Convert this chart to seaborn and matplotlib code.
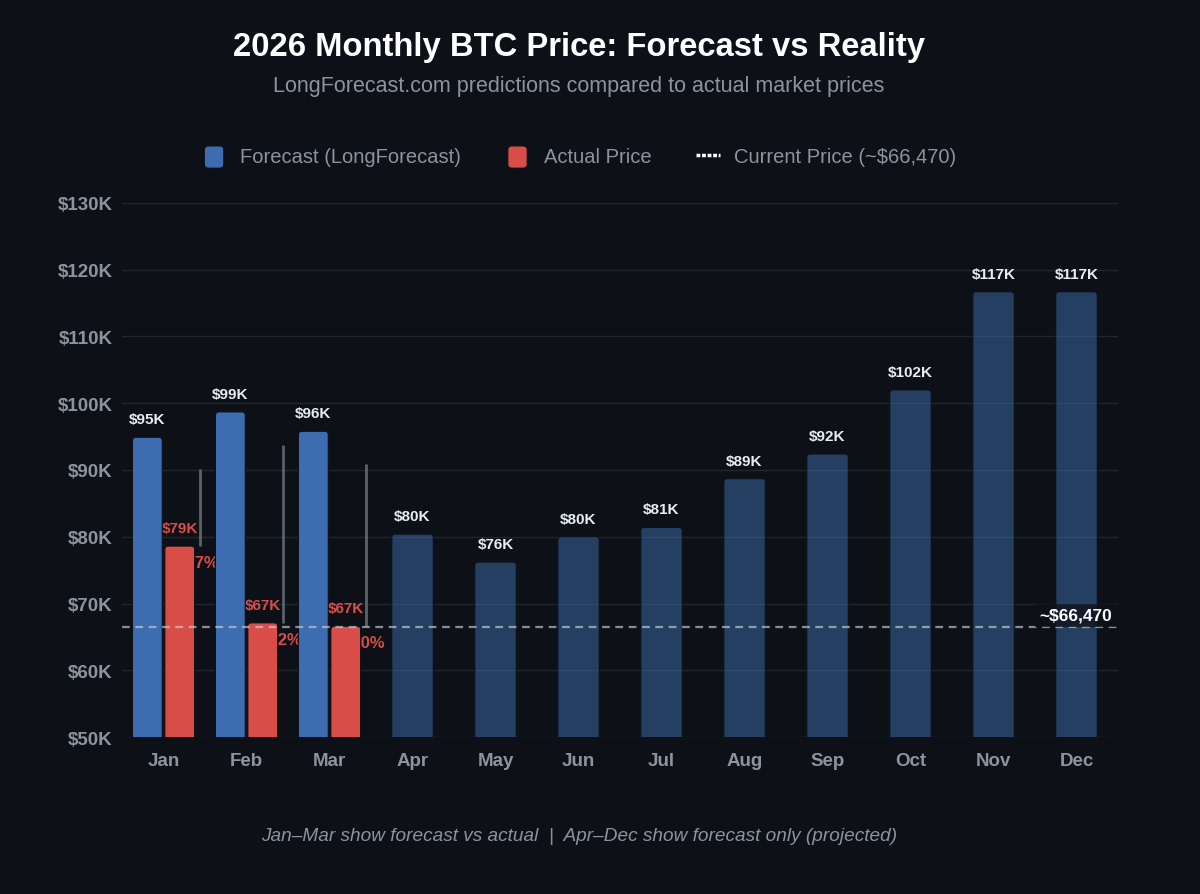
import pandas as pd
import matplotlib.pyplot as plt
import seaborn as sns
from matplotlib.patches import Patch, FancyBboxPatch
from matplotlib.lines import Line2D
from matplotlib.legend_handler import HandlerPatch
from matplotlib.ticker import FuncFormatter

# ------------------------------------------------------------------
# data (USD)
# ------------------------------------------------------------------
months = ['Jan', 'Feb', 'Mar', 'Apr', 'May', 'Jun',
          'Jul', 'Aug', 'Sep', 'Oct', 'Nov', 'Dec']
forecast = [94900, 98700, 95800, 80400, 76200, 80000,
            81400, 88700, 92400, 102000, 116700, 116700]
actual_months = ['Jan', 'Feb', 'Mar']
actual = [78600, 67100, 66600]
gap_top = [90100, 93700, 90900]      # upper end of the grey gap markers
current_price = 66470

# ------------------------------------------------------------------
# styling
# ------------------------------------------------------------------
bg = '#0d1117'
grid_col = '#21262d'
muted = '#8b949e'
blue = '#3d6db0'
red = '#d94d48'

sns.set_theme(style="dark", rc={
    'figure.facecolor': bg, 'axes.facecolor': bg,
    'axes.edgecolor': bg, 'grid.color': grid_col,
    'text.color': muted, 'xtick.color': muted, 'ytick.color': muted,
})
plt.rcParams['font.family'] = ['Liberation Sans', 'DejaVu Sans']

fig = plt.figure(figsize=(12, 8.95), dpi=100)
ax = fig.add_axes([0.1017, 0.1754, 0.83, 0.5967])

# Jan-Mar: forecast vs actual side by side
q1 = pd.DataFrame({
    'month': actual_months * 2,
    'price': forecast[:3] + actual,
    'series': ['Forecast'] * 3 + ['Actual'] * 3,
})
sns.barplot(data=q1, x='month', y='price', hue='series', order=months,
            hue_order=['Forecast', 'Actual'], palette=[blue, red],
            width=0.78, gap=0.08, saturation=1, errorbar=None,
            legend=False, ax=ax, zorder=3)

# Apr-Dec: projected forecast only
rest = pd.DataFrame({'month': months[3:], 'price': forecast[3:]})
sns.barplot(data=rest, x='month', y='price', order=months, color=blue,
            alpha=0.5, width=0.5, saturation=1, errorbar=None, ax=ax, zorder=3)

ax.set_ylim(50000, 130000)
ax.set_xlim(-0.5, 11.5)

# value labels
c_fc, c_act, c_rest = ax.containers[0], ax.containers[1], ax.containers[2]
lab_kw = dict(padding=8, fontsize=11, fontweight='bold')
ax.bar_label(c_fc, labels=[f"${v/1000:.0f}K" for v in forecast[:3]], color='#e6edf3', **lab_kw)
ax.bar_label(c_act, labels=[f"${v/1000:.0f}K" for v in actual], color=red, **lab_kw)
ax.bar_label(c_rest, labels=[f"${v/1000:.0f}K" for v in forecast[3:]], color='#e6edf3', **lab_kw)

# rounded bar corners: swap each rectangle for a rounded box
fig.canvas.draw()
xpx = ax.transData.transform([(1, 0)])[0][0] - ax.transData.transform([(0, 0)])[0][0]
ypx = ax.transData.transform([(0, 1000)])[0][1] - ax.transData.transform([(0, 0)])[0][1]
aspect = (1000 / ypx) / (1 / xpx)
for p in list(ax.patches):
    x0, y0, w, h = p.get_x(), p.get_y(), p.get_width(), p.get_height()
    rb = FancyBboxPatch((x0, y0), w, h,
                        boxstyle=f"round,pad=0,rounding_size={3.5 / xpx}",
                        mutation_aspect=aspect, fc=p.get_facecolor(),
                        ec=bg, lw=0.8, zorder=3)
    p.set_visible(False)
    ax.add_patch(rb)

# gap markers and % difference (partly hidden behind the bars)
for i, (f, a, top) in enumerate(zip(forecast[:3], actual, gap_top)):
    ax.vlines(i + 0.44, a, top, color='#6e7681', lw=2, alpha=0.8, zorder=2)
    pct = (a / f - 1) * 100
    ax.text(i + 0.44, a - 2500, f"{pct:.0f}%", color=red, fontsize=12,
            fontweight='bold', ha='center', va='center', zorder=1)

# current price reference
ax.axhline(current_price, color='#c9d1d9', alpha=0.65, lw=1.6,
           ls=(0, (3.5, 2.5)), zorder=4)
ax.annotate(f"~${current_price:,}", xy=(11.43, current_price), xytext=(0, 3),
            textcoords='offset points', ha='right', va='bottom',
            color='white', fontsize=12.5, fontweight='bold', zorder=5,
            bbox=dict(boxstyle='square,pad=0.25', fc=bg, ec='none', alpha=0.75))

ax.set_yticks(range(50000, 130001, 10000))
ax.yaxis.set_major_formatter(FuncFormatter(lambda v, _: f"${v/1000:.0f}K"))
ax.grid(axis='y', color=grid_col, lw=1, zorder=0)
ax.grid(axis='x', visible=False)
ax.set_axisbelow(True)
ax.set_xlabel('')
ax.set_ylabel('')
ax.tick_params(axis='both', length=0, labelsize=13.5, labelcolor=muted)
ax.tick_params(axis='y', pad=7)
ax.tick_params(axis='x', pad=11)
for lab in ax.get_xticklabels() + ax.get_yticklabels():
    lab.set_fontweight('bold')
sns.despine(ax=ax, left=True, bottom=True)

# titles, legend, footer
cx = 0.4825
fig.text(cx, 0.947, "2026 Monthly BTC Price: Forecast vs Reality", ha='center',
         va='center', color='white', fontsize=23.6, fontweight='bold')
fig.text(cx, 0.903, "LongForecast.com predictions compared to actual market prices",
         ha='center', va='center', color=muted, fontsize=15.5)


class RoundHandler(HandlerPatch):
    def create_artists(self, legend, orig, xd, yd, w, h, fs, trans):
        bw, bh = 14, 16
        box = FancyBboxPatch((xd + (w - bw) / 2, yd + (h - bh) / 2 - 1.5), bw, bh,
                             boxstyle="round,pad=0,rounding_size=3",
                             fc=orig.get_facecolor(), ec=bg, lw=0.8, transform=trans)
        return [box]


handles = [Patch(facecolor=blue), Patch(facecolor=red),
           Line2D([0], [0], color='white', lw=2.5, ls=(0, (1.1, 0.5)))]
fig.legend(handles, ['Forecast (LongForecast)', 'Actual Price', 'Current Price (~$66,470)'],
           loc='center', bbox_to_anchor=(cx, 0.824), ncol=3, frameon=False,
           fontsize=14.5, labelcolor=muted, handlelength=1.2, handleheight=0.7,
           columnspacing=2.2, handletextpad=0.7,
           handler_map={Patch: RoundHandler()})

fig.text(cx, 0.065, "Jan\u2013Mar show forecast vs actual  |  Apr\u2013Dec show forecast only (projected)",
         ha='center', va='center', color=muted, fontsize=13.7, style='italic')

fig.savefig('out.png', dpi=100, facecolor=bg)
